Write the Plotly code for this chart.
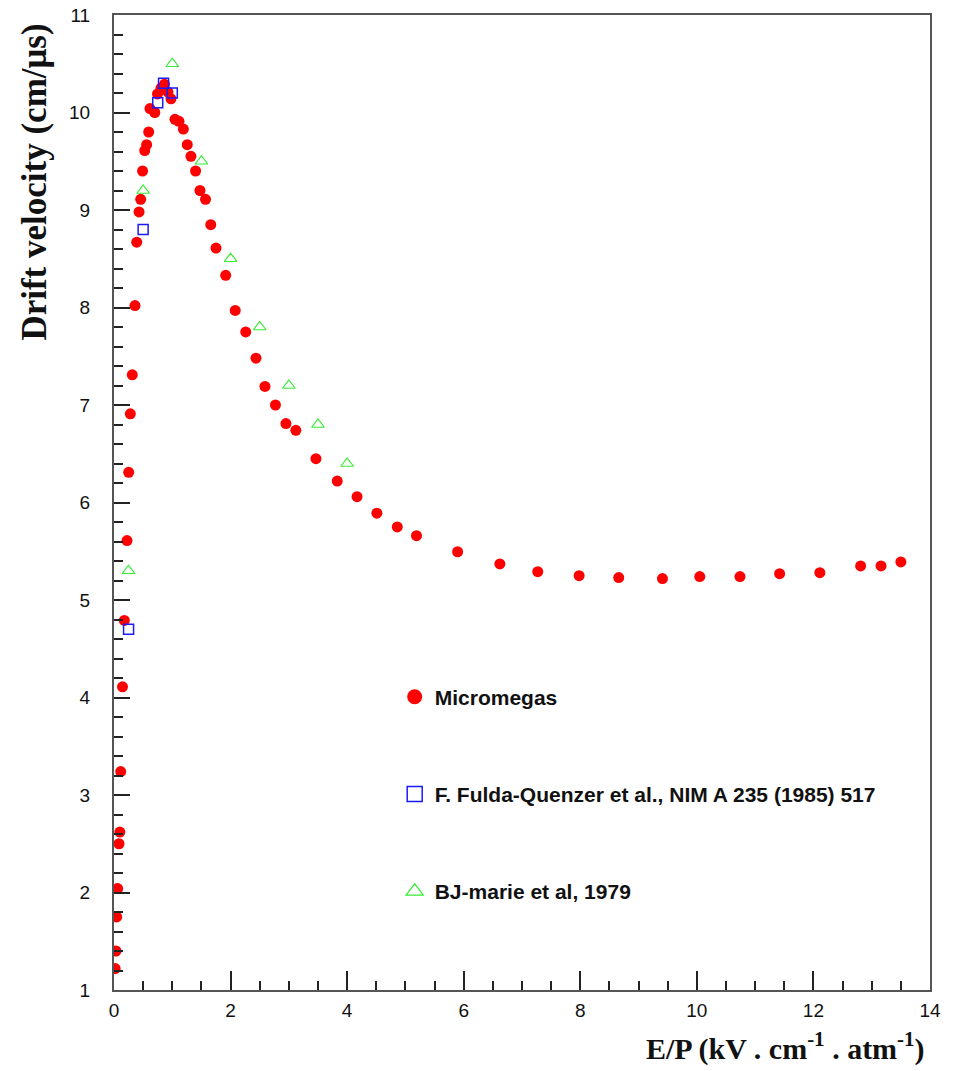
import plotly.graph_objects as go

# Micromegas data
mm_x = [0.02, 0.034, 0.046, 0.063, 0.086, 0.10, 0.115, 0.146, 0.177, 0.223,
        0.252, 0.28, 0.314, 0.36, 0.39, 0.43, 0.458, 0.49, 0.527, 0.56,
        0.595, 0.617, 0.70, 0.746, 0.806, 0.866, 0.926, 0.978, 1.046, 1.115,
        1.19, 1.257, 1.32, 1.40, 1.475, 1.57, 1.66, 1.75, 1.916, 2.08,
        2.26, 2.436, 2.59, 2.77, 2.95, 3.12, 3.465, 3.83, 4.17, 4.51,
        4.86, 5.19, 5.895, 6.62, 7.27, 7.98, 8.66, 9.41, 10.05, 10.74,
        11.42, 12.11, 12.81, 13.16, 13.50]
mm_y = [1.22, 1.40, 1.75, 2.04, 2.50, 2.62, 3.24, 4.11, 4.79, 5.61,
        6.31, 6.91, 7.31, 8.02, 8.67, 8.98, 9.11, 9.40, 9.61, 9.67,
        9.80, 10.04, 10.00, 10.19, 10.25, 10.29, 10.21, 10.14, 9.93, 9.91,
        9.83, 9.67, 9.55, 9.40, 9.20, 9.11, 8.85, 8.61, 8.33, 7.97,
        7.75, 7.48, 7.19, 7.00, 6.81, 6.74, 6.45, 6.22, 6.06, 5.89,
        5.75, 5.66, 5.495, 5.37, 5.29, 5.25, 5.23, 5.22, 5.24, 5.24,
        5.27, 5.28, 5.35, 5.35, 5.39]

# F. Fulda-Quenzer et al. data
fq_x = [0.25, 0.5, 0.75, 0.85, 1.0]
fq_y = [4.7, 8.8, 10.1, 10.3, 10.2]

# BJ-marie et al data
bj_x = [0.25, 0.5, 1.0, 1.5, 2.0, 2.5, 3.0, 3.5, 4.0]
bj_y = [5.3, 9.2, 10.5, 9.5, 8.5, 7.8, 7.2, 6.8, 6.4]

names = ["Micromegas", "F. Fulda-Quenzer et al., NIM A 235 (1985) 517", "BJ-marie et al, 1979"]
x_ticks = [0, 2, 4, 6, 8, 10, 12, 14]
y_ticks = [1, 2, 3, 4, 5, 6, 7, 8, 9, 10, 11]

RED = "#ff0000"
BLUE = "#1a1aff"
GREEN = "#33ee33"

fig = go.Figure()
fig.add_trace(go.Scatter(x=mm_x, y=mm_y, mode="markers", showlegend=False,
                         marker=dict(symbol="circle", size=11, color=RED)))
fig.add_trace(go.Scatter(x=fq_x, y=fq_y, mode="markers", showlegend=False,
                         marker=dict(symbol="square-open", size=10, color=BLUE,
                                     line=dict(width=1.5, color=BLUE))))
fig.add_trace(go.Scatter(x=bj_x, y=bj_y, mode="markers", showlegend=False,
                         marker=dict(symbol="triangle-up-open", size=11, color=GREEN,
                                     line=dict(width=1.2, color=GREEN))))

# legend entries (larger symbols, as in the reference legend)
fig.add_trace(go.Scatter(x=[None], y=[None], mode="markers", name=names[0], legendgroup="a",
                         marker=dict(symbol="circle", size=15, color=RED)))
fig.add_trace(go.Scatter(x=[None], y=[None], mode="markers", name=names[1], legendgroup="b",
                         marker=dict(symbol="square-open", size=15, color=BLUE,
                                     line=dict(width=1.5, color=BLUE))))
fig.add_trace(go.Scatter(x=[None], y=[None], mode="markers", name=names[2], legendgroup="c",
                         marker=dict(symbol="triangle-up-open", size=15, color=GREEN,
                                     line=dict(width=1.2, color=GREEN))))

axis_common = dict(showline=True, linecolor="#555555", linewidth=2, mirror=True,
                   showgrid=False, zeroline=False, ticks="inside", tickcolor="#222222",
                   tickwidth=1.5, automargin=False, ticklabeloverflow="allow",
                   tickfont=dict(family="Liberation Sans, Arial", size=19, color="#111111"))

fig.update_xaxes(range=[0, 14], tickmode="array", tickvals=x_ticks,
                 ticktext=[str(v) for v in x_ticks], ticklen=19,
                 minor=dict(dtick=0.5, ticks="inside", ticklen=9, tickcolor="#222222", tickwidth=1.5),
                 ticklabelstandoff=2, **axis_common)
fig.update_yaxes(range=[1, 11], tickmode="array", tickvals=y_ticks,
                 ticktext=[str(v) for v in y_ticks], ticklen=16,
                 minor=dict(dtick=0.2, ticks="inside", ticklen=9, tickcolor="#222222", tickwidth=1.5),
                 ticklabelstandoff=18, **axis_common)

fig.update_layout(
    width=963, height=1071,
    margin=dict(l=114, r=33, t=15, b=81, autoexpand=False),
    plot_bgcolor="white", paper_bgcolor="white",
    legend=dict(x=0.344, y=0.3215, xanchor="left", yanchor="top",
                bgcolor="rgba(0,0,0,0)", tracegroupgap=67,
                font=dict(family="Liberation Sans, Arial", size=21, color="#111111", weight="bold")),
    annotations=[
        dict(text="<b>Drift velocity (cm/μs)</b>", xref="paper", yref="paper",
             x=-0.097, y=0.829, xanchor="center", yanchor="middle", textangle=-90,
             showarrow=False, font=dict(family="Liberation Serif, Times New Roman", size=35, color="#111111")),
        dict(text="<b>E/P (kV . cm<sup>-1</sup> . atm<sup>-1</sup>)</b>", xref="paper", yref="paper",
             x=0.9965, y=-0.0805, xanchor="right", yanchor="bottom",
             showarrow=False, font=dict(family="Liberation Serif, Times New Roman", size=30, color="#111111")),
    ],
)

# remove the default page margin so the figure fills the window exactly
fig.write_html("out.html", config={"displayModeBar": False},
               post_script="document.body.style.margin='0';document.body.style.overflow='hidden';")
